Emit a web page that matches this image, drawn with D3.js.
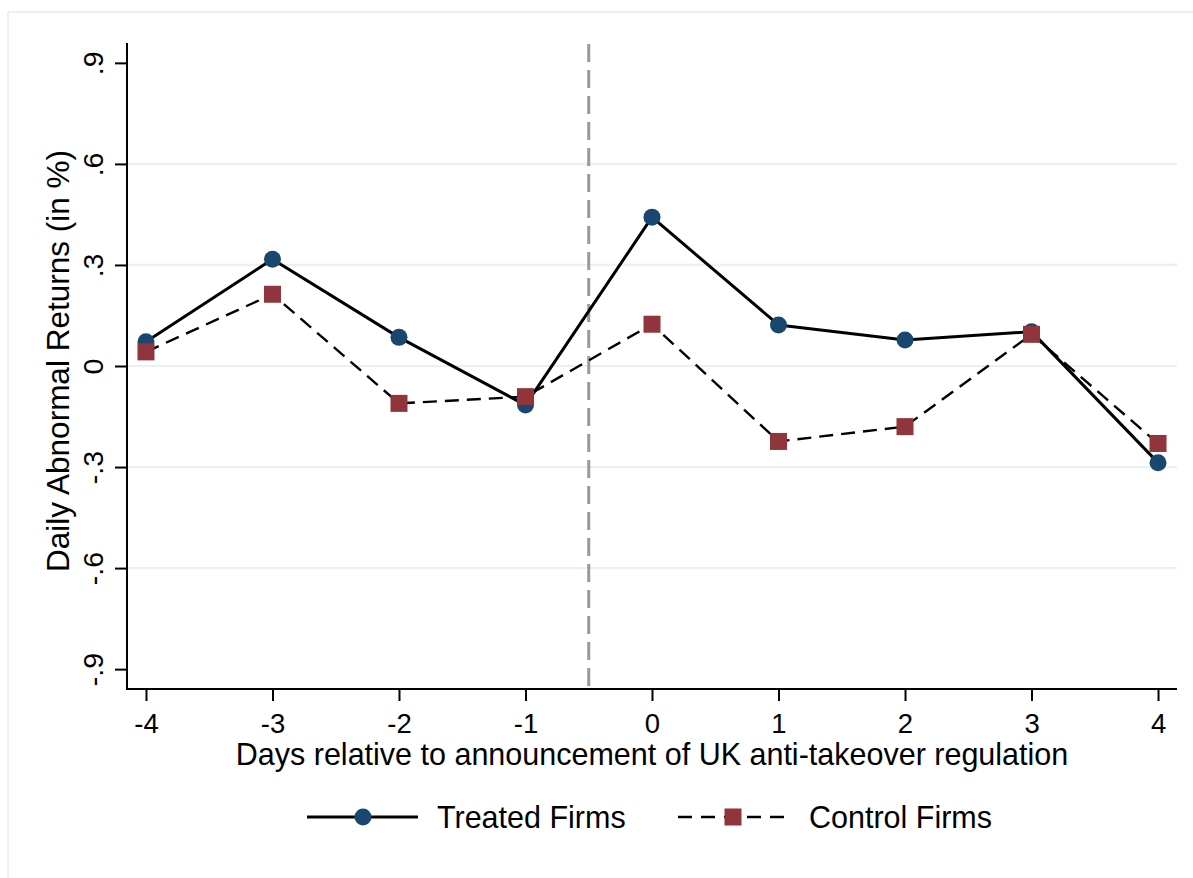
<!DOCTYPE html>
<html>
<head>
<meta charset="utf-8">
<script src="https://cdn.jsdelivr.net/npm/d3@7"></script>
<style>
  html, body { margin: 0; padding: 0; background: #ffffff; }
  svg { display: block; font-family: "Liberation Sans", Arial, Helvetica, sans-serif; }
</style>
</head>
<body>
<svg id="chart" width="1193" height="878"></svg>
<script>
// Event window (days relative to the announcement)
const days = [-4, -3, -2, -1, 0, 1, 2, 3, 4];
// Daily abnormal returns, in percent
const treated = [0.072, 0.317, 0.085, -0.116, 0.442, 0.122, 0.077, 0.102, -0.287];
const control = [0.042, 0.213, -0.111, -0.091, 0.124, -0.224, -0.180, 0.094, -0.230];
const yTicks = [-0.9, -0.6, -0.3, 0, 0.3, 0.6, 0.9];
const yTickLabels = ["-.9", "-.6", "-.3", "0", ".3", ".6", ".9"];
const gridValues = [-0.6, -0.3, 0, 0.3, 0.6];
const eventLine = -0.5;
const seriesNames = ["Treated Firms", "Control Firms"];

const svg = d3.select("#chart");

// outer graph region border
svg.append("rect")
  .attr("x", 8).attr("y", 12)
  .attr("width", 1300).attr("height", 1000)
  .attr("fill", "none")
  .attr("stroke", "#e4ecef")
  .attr("stroke-width", 1.5);

const plot = { left: 127, right: 1177, top: 43, bottom: 689 };

const x = d3.scaleLinear().domain([-4.15, 4.15]).range([plot.left, plot.right]);
const y = d3.scaleLinear().domain([-0.959, 0.959]).range([plot.bottom, plot.top]);

// horizontal grid lines
svg.append("g").selectAll("line")
  .data(gridValues).join("line")
  .attr("x1", plot.left).attr("x2", plot.right)
  .attr("y1", d => y(d)).attr("y2", d => y(d))
  .attr("stroke", "#eaf1f3").attr("stroke-width", 2.2);

// announcement marker
svg.append("line")
  .attr("x1", x(eventLine)).attr("x2", x(eventLine))
  .attr("y1", plot.top + 1).attr("y2", plot.bottom)
  .attr("stroke", "#999999").attr("stroke-width", 3)
  .attr("stroke-dasharray", "18,8");

// axes
const yAxis = d3.axisLeft(y)
  .tickValues(yTicks)
  .tickFormat((d, i) => yTickLabels[i])
  .tickSize(12).tickPadding(0);
const gy = svg.append("g").attr("transform", `translate(${plot.left},0)`).call(yAxis);
gy.select(".domain").remove();
gy.selectAll(".tick line").attr("stroke", "#000").attr("stroke-width", 2);
gy.selectAll(".tick text")
  .attr("transform", "rotate(-90)")
  .attr("x", 0).attr("y", -24)
  .attr("dy", 0)
  .attr("text-anchor", "middle")
  .attr("font-size", 28.5)
  .attr("fill", "#000");

const xAxis = d3.axisBottom(x)
  .tickValues(days)
  .tickFormat(d3.format("d"))
  .tickSize(12).tickPadding(0);
const gx = svg.append("g").attr("transform", `translate(0,${plot.bottom})`).call(xAxis);
gx.select(".domain").remove();
gx.selectAll(".tick line").attr("stroke", "#000").attr("stroke-width", 2);
gx.selectAll(".tick text")
  .attr("y", 44).attr("dy", 0)
  .attr("font-size", 27.5)
  .attr("fill", "#000")
  .text(d => d < 0 ? "-" + Math.abs(d) : d);

// axis lines
svg.append("line")
  .attr("x1", plot.left).attr("x2", plot.left)
  .attr("y1", plot.top).attr("y2", plot.bottom + 1)
  .attr("stroke", "#000").attr("stroke-width", 2);
svg.append("line")
  .attr("x1", plot.left - 1).attr("x2", plot.right)
  .attr("y1", plot.bottom).attr("y2", plot.bottom)
  .attr("stroke", "#000").attr("stroke-width", 2);

// axis titles
svg.append("text")
  .attr("transform", `translate(69,${(plot.top + plot.bottom) / 2 - 5}) rotate(-90)`)
  .attr("text-anchor", "middle")
  .attr("font-size", 31.5)
  .attr("fill", "#000")
  .text("Daily Abnormal Returns (in %)");

svg.append("text")
  .attr("x", (plot.left + plot.right) / 2)
  .attr("y", 765)
  .attr("text-anchor", "middle")
  .attr("font-size", 30.5)
  .attr("fill", "#000")
  .text("Days relative to announcement of UK anti-takeover regulation");

const navy = "#1a476f";
const maroon = "#90353b";

const line = d3.line().x(d => x(d[0])).y(d => y(d[1]));
const treatedPts = days.map((d, i) => [d, treated[i]]);
const controlPts = days.map((d, i) => [d, control[i]]);

// treated firms: solid line with circles
svg.append("path")
  .datum(treatedPts)
  .attr("d", line)
  .attr("fill", "none")
  .attr("stroke", "#000").attr("stroke-width", 3)
  .attr("stroke-linejoin", "round");
svg.append("g").selectAll("circle")
  .data(treatedPts).join("circle")
  .attr("cx", d => x(d[0])).attr("cy", d => y(d[1]))
  .attr("r", 8.5).attr("fill", navy);

// control firms: dashed line with squares
svg.append("path")
  .datum(controlPts)
  .attr("d", line)
  .attr("fill", "none")
  .attr("stroke", "#000").attr("stroke-width", 2.4)
  .attr("stroke-dasharray", "14,8");
const sq = 17;
svg.append("g").selectAll("rect")
  .data(controlPts).join("rect")
  .attr("x", d => x(d[0]) - sq / 2).attr("y", d => y(d[1]) - sq / 2)
  .attr("width", sq).attr("height", sq)
  .attr("fill", maroon);

// legend
const legY = 817;
const leg = svg.append("g");
leg.append("line")
  .attr("x1", 307).attr("x2", 418).attr("y1", legY).attr("y2", legY)
  .attr("stroke", "#000").attr("stroke-width", 3);
leg.append("circle").attr("cx", 363).attr("cy", legY).attr("r", 8.5).attr("fill", navy);
leg.append("text").attr("x", 437).attr("y", legY + 11)
  .attr("font-size", 30.5).attr("fill", "#000").text(seriesNames[0]);

leg.append("line")
  .attr("x1", 678).attr("x2", 790).attr("y1", legY).attr("y2", legY)
  .attr("stroke", "#000").attr("stroke-width", 2.4)
  .attr("stroke-dasharray", "14,9");
leg.append("rect").attr("x", 733 - sq / 2).attr("y", legY - sq / 2)
  .attr("width", sq).attr("height", sq).attr("fill", maroon);
leg.append("text").attr("x", 809).attr("y", legY + 11)
  .attr("font-size", 30.5).attr("fill", "#000").text(seriesNames[1]);
</script>
</body>
</html>
